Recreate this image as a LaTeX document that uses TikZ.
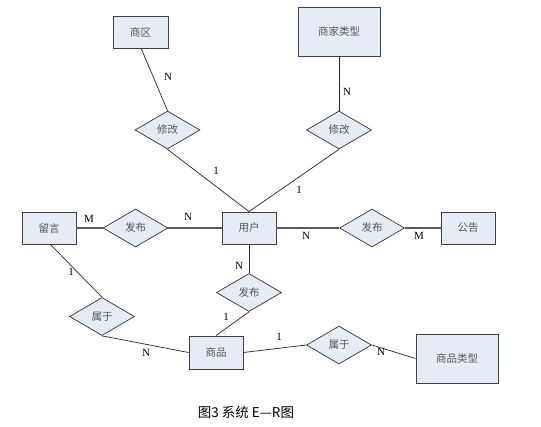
\documentclass[tikz,border=0pt]{standalone}
\usepackage{fontspec}
\setmainfont{Liberation Serif}
\newfontfamily\cjk{Noto Sans CJK SC}
\usetikzlibrary{shapes.geometric}
\definecolor{fillc}{HTML}{E6ECF6}
\definecolor{txtc}{HTML}{555555}
\begin{document}
\begin{tikzpicture}[x=1pt,y=-1pt,
  ent/.style={draw=black!75,line width=0.9pt,fill=fillc,inner sep=0pt,font=\cjk\fontsize{10.5}{12}\selectfont,text=txtc},
  rel/.style={draw=black!80,line width=0.7pt,fill=fillc,diamond,aspect=1.7,inner sep=0pt,minimum width=65pt,minimum height=38pt,font=\cjk\fontsize{10.5}{12}\selectfont,text=txtc},
  conn/.style={draw=black!85,line width=0.7pt},
  thick conn/.style={draw=black!65,line width=1.5pt},
  lab/.style={font=\fontsize{11}{12}\selectfont,inner sep=0pt}]
\useasboundingbox (0,0) rectangle (541,426);
% entities
\node[ent,minimum width=55pt,minimum height=32pt] (sq) at (140.5,32) {商区};
\node[ent,minimum width=82pt,minimum height=49pt] (sjlx) at (339,31.5) {商家类型};
\node[ent,minimum width=54pt,minimum height=32pt] (ly) at (49,228) {留言};
\node[ent,minimum width=54pt,minimum height=32pt] (yh) at (249,228) {用户};
\node[ent,minimum width=54pt,minimum height=32pt] (gg) at (468,228) {公告};
\node[ent,minimum width=54pt,minimum height=33pt] (sp) at (216,352.5) {商品};
\node[ent,minimum width=82pt,minimum height=49pt] (splx) at (457,358.5) {商品类型};
% relationships
\node[rel] (xg1) at (167.5,130) {修改};
\node[rel] (xg2) at (339,130) {修改};
\node[rel] (fb1) at (135.5,228) {发布};
\node[rel] (fb2) at (372,228) {发布};
\node[rel] (fb3) at (249,292.5) {发布};
\node[rel] (sy1) at (102,316.5) {属于};
\node[rel] (sy2) at (339,345) {属于};
% connectors
\draw[conn] (141,48) coordinate (a1) -- (xg1.north);
\draw[conn] (xg1.south) -- (yh.north);
\draw[conn] (sjlx.south) -- (xg2.north);
\draw[conn] (xg2.south) -- (yh.north);
\draw[thick conn] (ly.east) -- (fb1.west);
\draw[thick conn] (fb1.east) -- (yh.west);
\draw[thick conn] (yh.east) -- (fb2.west);
\draw[thick conn] (fb2.east) -- (gg.west);
\draw[conn] (yh.south) -- (fb3.north);
\draw[conn] (fb3.south) -- (sp.north);
\draw[conn] (50,244) coordinate (a2) -- (sy1.north);
\draw[conn] (sy1.south) -- (sp.west);
\draw[conn] (sp.east) -- (sy2.west);
\draw[conn] (sy2.east) -- (splx.west);
% cardinalities
\node[lab] (l1) at (168,77) {N};
\node[lab] (l2) at (216,171) {1};
\node[lab] (l3) at (347,92) {N};
\node[lab] (l4) at (299,190) {1};
\node[lab] (l5) at (89,219) {M};
\node[lab] (l6) at (188,217) {N};
\node[lab] (l7) at (306,236) {N};
\node[lab] (l8) at (419,236) {M};
\node[lab] (l9) at (239,266) {N};
\node[lab] (l10) at (226,317) {1};
\node[lab] (l11) at (71,272) {1};
\node[lab] (l12) at (146,353) {N};
\node[lab] (l13) at (279,337) {1};
\node[lab] (l14) at (381,352) {N};
% caption
\node[font=\cjk\fontsize{13.5}{15}\selectfont,inner sep=0pt] (cap) at (246,412) {图3 系统 E—R图};
\end{tikzpicture}
\end{document}
